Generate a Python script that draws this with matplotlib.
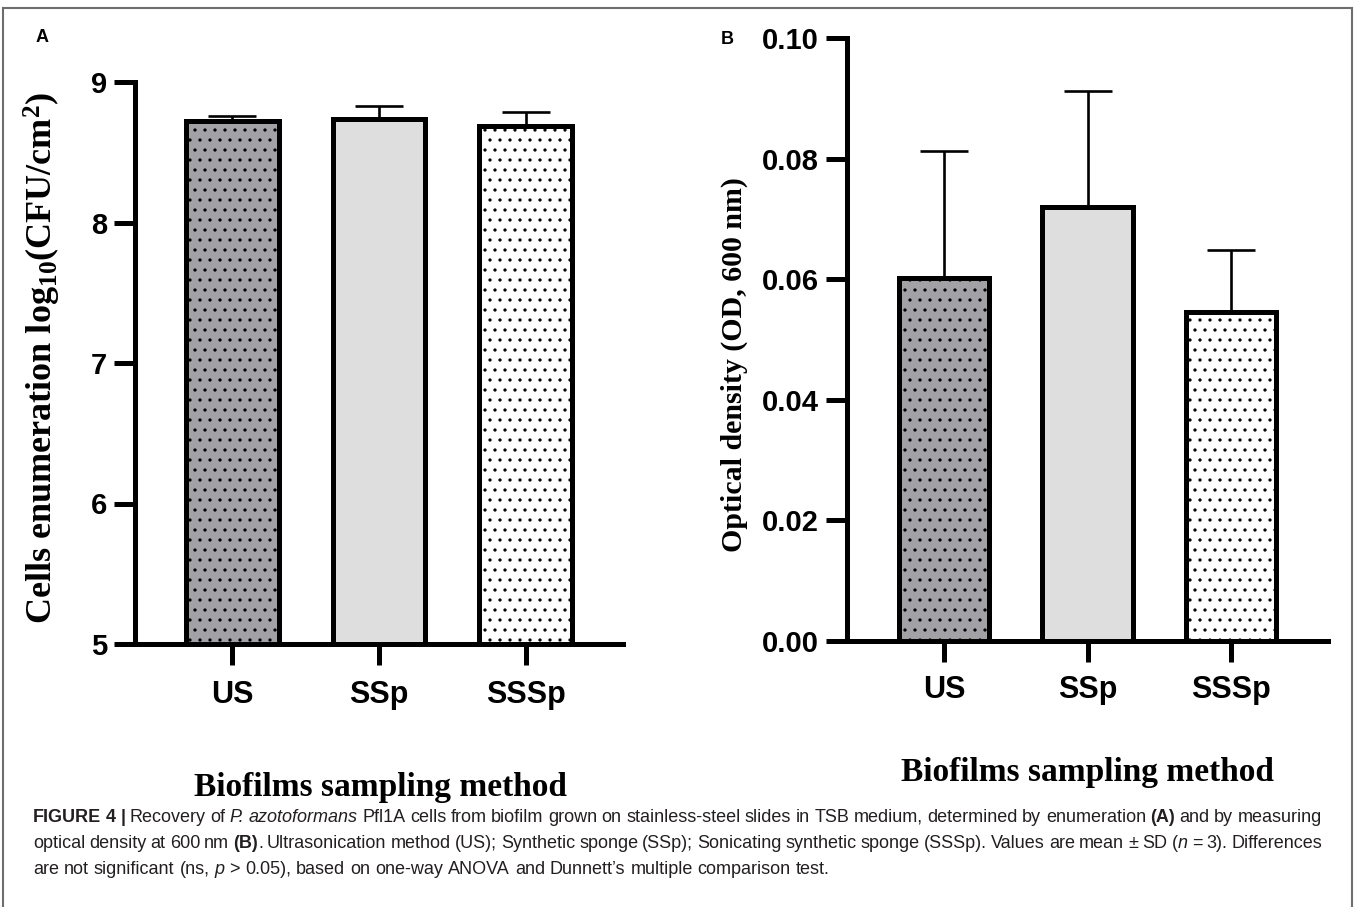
import matplotlib
matplotlib.use("Agg")
import matplotlib.pyplot as plt
import matplotlib.hatch as mhatch
import numpy as np
from matplotlib.lines import Line2D

# ---------------- data ----------------
categories = ["US", "SSp", "SSSp"]
cfu_mean = [8.72, 8.74, 8.69]
cfu_sd = [0.04, 0.09, 0.10]
od_mean = [0.0602, 0.0719, 0.0546]
od_sd = [0.0211, 0.0193, 0.0103]
cfu_ticks = [5, 6, 7, 8, 9]
od_ticks = [0.00, 0.02, 0.04, 0.06, 0.08, 0.10]

fills = ["#a1a1a6", "#dedede", "#ffffff"]
hatches = [".", "", "."]

# slightly coarser dot hatch (10 rows per inch; must be even) like the original
try:
    def _dots_init(self, hatch, density):
        self.num_rows = hatch.count('.') * 10
        mhatch.Circles.__init__(self, hatch, density)
    mhatch.SmallFilledCircles.__init__ = _dots_init
except Exception:
    pass

plt.rcParams["mathtext.fontset"] = "custom"
plt.rcParams["mathtext.rm"] = "Liberation Serif:bold"
plt.rcParams["mathtext.bf"] = "Liberation Serif:bold"
plt.rcParams["mathtext.it"] = "Liberation Serif:bold:italic"
plt.rcParams["hatch.linewidth"] = 0.9

fig = plt.figure(figsize=(13.57, 9.07), dpi=100)

SANS = "Liberation Sans"
SERIF = "Liberation Serif"
SPW = 3.6


def make_panel(rect, means, sds, ticks, fmt, xlim, width, ylabel, ylab_size,
               ylab_xy, xlab_xy, xpad):
    ax = fig.add_axes(rect)
    x = np.arange(len(categories))
    ymin = ticks[0]
    means = np.asarray(means)
    ax.errorbar(x, means, yerr=[np.zeros_like(means), sds], fmt="none",
                ecolor="black", elinewidth=1.9, capsize=17, capthick=1.9,
                zorder=1)
    for i in range(len(categories)):
        ax.bar(x[i], means[i] - ymin, bottom=ymin, width=width,
               color=fills[i], edgecolor="black", linewidth=SPW,
               hatch=hatches[i], zorder=2)
    ax.set_xlim(*xlim)
    ax.set_ylim(ticks[0], ticks[-1])
    ax.set_yticks(ticks)
    ax.set_yticklabels([fmt(t) for t in ticks])
    ax.set_xticks(x)
    ax.set_xticklabels(categories)
    for s in ["top", "right"]:
        ax.spines[s].set_visible(False)
    for s in ["left", "bottom"]:
        ax.spines[s].set_linewidth(SPW)
    ax.tick_params(axis="y", length=15, width=SPW, pad=5, labelsize=21)
    ax.tick_params(axis="x", length=15, width=SPW, pad=xpad, labelsize=22)
    for lab in ax.get_xticklabels() + ax.get_yticklabels():
        lab.set_fontfamily(SANS)
        lab.set_fontweight("bold")
    ax.set_ylabel(ylabel, fontfamily=SERIF, fontweight="bold",
                  fontsize=ylab_size)
    ax.yaxis.set_label_coords(*ylab_xy)
    ax.set_xlabel("Biofilms sampling method", fontfamily=SERIF,
                  fontweight="bold", fontsize=24)
    ax.xaxis.set_label_coords(*xlab_xy)
    return ax


axA = make_panel([135 / 1357, 1 - 644 / 907, 488 / 1357, 562 / 907],
                 cfu_mean, cfu_sd, cfu_ticks, lambda t: f"{t:d}",
                 (-0.664, 2.664), 0.63,
                 r"Cells enumeration log$_{10}$(CFU/cm$^{2}$)", 26,
                 (-0.147, 0.51), (0.503, -0.228), 11)
axB = make_panel([847 / 1357, 1 - 641 / 907, 481 / 1357, 603 / 907],
                 od_mean, od_sd, od_ticks, lambda t: f"{t:.2f}",
                 (-0.676, 2.676), 0.63,
                 "Optical density (OD, 600 nm)", 21.5,
                 (-0.206, 0.458), (0.499, -0.192), 9.5)

# panel letters
fig.text(42 / 1357, 1 - 37 / 907, "A", fontfamily=SANS, fontweight="bold",
         fontsize=13, ha="center", va="center")
fig.text(727 / 1357, 1 - 40 / 907, "B", fontfamily=SANS, fontweight="bold",
         fontsize=13, ha="center", va="center")

# outer frame (top, left, right)
fcol = "#6e6e6e"
for xs, ys in [((3 / 1357, 1352 / 1357), (1 - 8 / 907, 1 - 8 / 907)),
               ((3 / 1357, 3 / 1357), (0, 1 - 8 / 907)),
               ((1352 / 1357, 1352 / 1357), (0, 1 - 8 / 907))]:
    fig.add_artist(Line2D(xs, ys, transform=fig.transFigure, color=fcol,
                          linewidth=1.5))

# ---------------- caption ----------------
CAP_SIZE = 13.3
CAP_COL = "#231f20"
N = {}
B = {"fontweight": "bold"}
I = {"fontstyle": "italic"}
cap_lines = [
    ([("FIGURE 4 | ", B), ("Recovery of ", N), ("P. azotoformans", I),
      (" Pfl1A cells from biofilm grown on stainless-steel slides in TSB medium, "
       "determined by enumeration ", N), ("(A)", B), (" and by measuring", N)], True),
    ([("optical density at 600 nm ", N), ("(B)", B),
      (". Ultrasonication method (US); Synthetic sponge (SSp); Sonicating synthetic "
       "sponge (SSSp). Values are mean \u00b1 SD (", N), ("n", I),
      (" = 3). Differences", N)], True),
    ([("are not significant (ns, ", N), ("p", I),
      (" > 0.05), based on one-way ANOVA and Dunnett\u2019s multiple comparison test.", N)],
     False),
]
cap_y = [822, 848, 874]
X0, X1 = 33, 1322

renderer = fig.canvas.get_renderer()


def tw(s, style, size):
    t = fig.text(0, 0, s, fontfamily=SANS, fontsize=size, **style)
    w = t.get_window_extent(renderer).width
    t.remove()
    return w


def split_words(segs):
    words = [[]]
    for s, st in segs:
        parts = s.split(" ")
        for k, p in enumerate(parts):
            if k > 0:
                words.append([])
            if p:
                words[-1].append((p, st))
    return [w for w in words if w]


# one common size for all caption lines so that the justified lines fit
size = CAP_SIZE
sp0 = tw("x x", N, CAP_SIZE) - tw("xx", N, CAP_SIZE)
for segs, justify in cap_lines:
    if not justify:
        continue
    words = split_words(segs)
    nat = sum(tw(p, st, CAP_SIZE) for w in words for p, st in w) + \
        sp0 * 0.8 * (len(words) - 1)
    size = min(size, CAP_SIZE * (X1 - X0) / nat)

space_w = tw("x x", N, size) - tw("xx", N, size)
for (segs, justify), yy in zip(cap_lines, cap_y):
    words = split_words(segs)
    widths = [[tw(p, st, size) for p, st in w] for w in words]
    total = sum(sum(w) for w in widths)
    gap = (X1 - X0 - total) / (len(words) - 1) if justify else space_w
    x = X0
    for w, ws in zip(words, widths):
        for (p, st), wd in zip(w, ws):
            fig.text(x / 1357, 1 - yy / 907, p, fontfamily=SANS,
                     fontsize=size, color=CAP_COL, va="baseline", ha="left",
                     **st)
            x += wd
        x += gap

fig.savefig("out.png", dpi=100)
